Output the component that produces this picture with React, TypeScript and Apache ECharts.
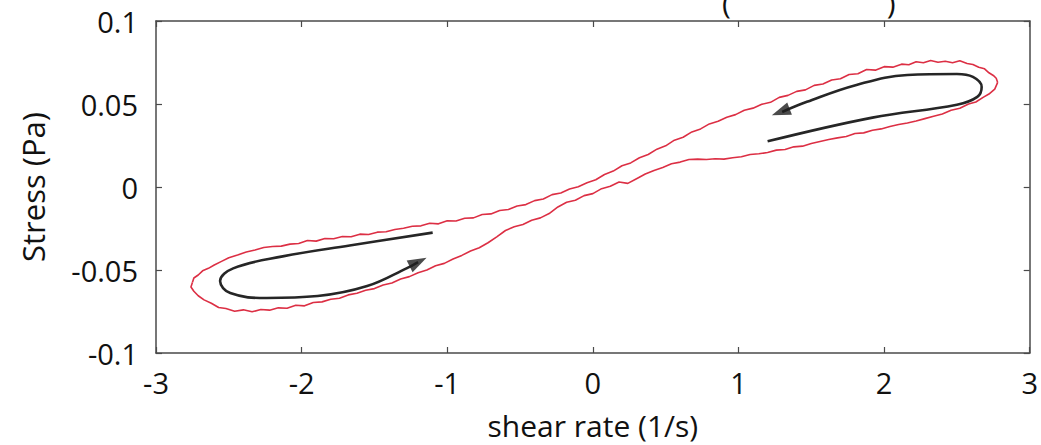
import React, { useEffect, useRef } from "react";
import * as echarts from "echarts";

const xTicks = [-3, -2, -1, 0, 1, 2, 3];
const yTicks = [-0.1, -0.05, 0, 0.05, 0.1];
const xLabel = "shear rate (1/s)";
const yLabel = "Stress (Pa)";

// Measured loop: upper branch (rate decreasing), right tip -> left tip
const upperBranch: [number, number][] = [
  [2.78, 0.063], [2.77, 0.0655], [2.75, 0.0672], [2.72, 0.0688], [2.69, 0.0712], [2.65, 0.0722],
  [2.61, 0.0738], [2.57, 0.0744], [2.52, 0.076], [2.47, 0.0749], [2.42, 0.0758], [2.37, 0.0752],
  [2.32, 0.0762], [2.27, 0.0748], [2.22, 0.0755], [2.17, 0.0736], [2.12, 0.074], [2.06, 0.0722],
  [2.0, 0.0725], [1.94, 0.0704], [1.88, 0.0708], [1.82, 0.0682], [1.76, 0.0678], [1.7, 0.0652],
  [1.64, 0.0645], [1.58, 0.062], [1.52, 0.0612], [1.46, 0.0585], [1.4, 0.0576], [1.34, 0.0552],
  [1.28, 0.054], [1.22, 0.051], [1.16, 0.0498], [1.1, 0.0475], [1.04, 0.0462], [0.98, 0.0436],
  [0.92, 0.042], [0.86, 0.0396], [0.8, 0.038], [0.74, 0.035], [0.68, 0.0332], [0.62, 0.03],
  [0.56, 0.0282], [0.5, 0.0248], [0.44, 0.0228], [0.38, 0.0196], [0.32, 0.0176], [0.26, 0.0145],
  [0.2, 0.0128], [0.14, 0.0096], [0.08, 0.0075], [0.02, 0.0044], [-0.04, 0.0026], [-0.1, 0.0002],
  [-0.16, -0.0012], [-0.22, -0.0036], [-0.28, -0.0046], [-0.34, -0.0072], [-0.4, -0.0082],
  [-0.46, -0.0106], [-0.52, -0.0114], [-0.58, -0.0136], [-0.64, -0.0142], [-0.7, -0.0162],
  [-0.76, -0.0166], [-0.82, -0.0186], [-0.88, -0.0188], [-0.94, -0.0205], [-1.0, -0.0203],
  [-1.06, -0.0222], [-1.12, -0.0218], [-1.18, -0.0234], [-1.24, -0.0236], [-1.3, -0.0248],
  [-1.36, -0.0256], [-1.42, -0.027], [-1.48, -0.0272], [-1.54, -0.0286], [-1.6, -0.0284],
  [-1.66, -0.03], [-1.72, -0.0298], [-1.78, -0.0312], [-1.84, -0.031], [-1.9, -0.0326],
  [-1.96, -0.0322], [-2.02, -0.034], [-2.08, -0.0344], [-2.14, -0.0356], [-2.2, -0.0358],
  [-2.26, -0.0364], [-2.32, -0.038], [-2.38, -0.0392], [-2.44, -0.041], [-2.5, -0.0426],
  [-2.55, -0.0448], [-2.6, -0.047], [-2.64, -0.049], [-2.68, -0.0505], [-2.71, -0.053],
  [-2.74, -0.0548], [-2.75, -0.0575],
];

// Lower branch (rate increasing), left tip -> right tip
const lowerBranch: [number, number][] = [
  [-2.75, -0.0575], [-2.76, -0.0602], [-2.74, -0.0628], [-2.71, -0.0655], [-2.67, -0.068],
  [-2.62, -0.07], [-2.57, -0.0726], [-2.52, -0.0732], [-2.46, -0.0748], [-2.4, -0.074],
  [-2.34, -0.0752], [-2.28, -0.0738], [-2.22, -0.0742], [-2.16, -0.0728], [-2.1, -0.073],
  [-2.04, -0.0712], [-1.98, -0.0716], [-1.92, -0.0696], [-1.86, -0.0692], [-1.8, -0.0676],
  [-1.74, -0.067], [-1.68, -0.065], [-1.62, -0.064], [-1.56, -0.0622], [-1.5, -0.0612],
  [-1.44, -0.059], [-1.38, -0.0578], [-1.32, -0.0554], [-1.26, -0.054], [-1.2, -0.0516],
  [-1.14, -0.05], [-1.08, -0.0474], [-1.02, -0.046], [-0.96, -0.0434], [-0.9, -0.0412],
  [-0.84, -0.0386], [-0.78, -0.0366], [-0.72, -0.0336], [-0.66, -0.03], [-0.6, -0.0262],
  [-0.54, -0.024], [-0.48, -0.0226], [-0.42, -0.02], [-0.36, -0.0186], [-0.3, -0.016],
  [-0.24, -0.012], [-0.18, -0.0092], [-0.12, -0.008], [-0.06, -0.0052], [0.0, -0.004],
  [0.06, -0.001], [0.12, 0.0004], [0.18, 0.003], [0.24, 0.0022], [0.3, 0.005], [0.36, 0.0078],
  [0.42, 0.01], [0.48, 0.0118], [0.54, 0.014], [0.6, 0.015], [0.66, 0.0166], [0.72, 0.0168],
  [0.78, 0.0166], [0.84, 0.017], [0.9, 0.0168], [0.96, 0.0176], [1.02, 0.0182], [1.08, 0.0196],
  [1.14, 0.02], [1.2, 0.0208], [1.26, 0.0222], [1.32, 0.0226], [1.38, 0.0242], [1.44, 0.0246],
  [1.5, 0.0262], [1.56, 0.0274], [1.62, 0.0286], [1.68, 0.0296], [1.74, 0.0304], [1.8, 0.0322],
  [1.86, 0.0326], [1.92, 0.0342], [1.98, 0.035], [2.04, 0.0364], [2.1, 0.0376], [2.16, 0.0386],
  [2.22, 0.0398], [2.28, 0.0412], [2.34, 0.0426], [2.4, 0.044], [2.46, 0.0462], [2.52, 0.0474],
  [2.58, 0.05], [2.63, 0.0512], [2.68, 0.054], [2.72, 0.056], [2.76, 0.059], [2.78, 0.063],
];

// Direction guide arrows (schematic)
const arrowRight: [number, number][] = [
  [1.2, 0.0275], [1.92, 0.0418], [2.5, 0.0496], [2.64, 0.0543], [2.67, 0.0603], [2.61, 0.0663],
  [2.5, 0.0681], [2.16, 0.0675], [1.81, 0.0615], [1.47, 0.0513], [1.3, 0.0452],
];
const arrowLeft: [number, number][] = [
  [-1.1, -0.0275], [-1.67, -0.0352], [-2.13, -0.0418], [-2.47, -0.049], [-2.56, -0.0567],
  [-2.49, -0.0639], [-2.24, -0.0669], [-1.89, -0.0657], [-1.55, -0.0597], [-1.28, -0.049],
  [-1.2, -0.0452],
];
const arrowHeads: { value: [number, number]; rot: number }[] = [
  { value: [1.29, 0.0452], rot: 111 },
  { value: [-1.2, -0.0452], rot: -63 },
];

const FONT = "'Open Sans', 'Noto Sans', sans-serif";
const TXT = "#111111";
const AX = "#4a4a4a";

export default function App() {
  const ref = useRef<HTMLDivElement>(null);
  useEffect(() => {
    if (!ref.current) return;
    const chart = echarts.init(ref.current, undefined, { renderer: "svg" });
    const axisCommon = {
      type: "value" as const,
      axisLine: { show: true, onZero: false, lineStyle: { color: AX, width: 1.5 } },
      axisTick: { show: true, inside: true, length: 6, lineStyle: { color: AX, width: 1.2 } },
      splitLine: { show: false },
    };
    chart.setOption({
      animation: false,
      backgroundColor: "#ffffff",
      textStyle: { fontFamily: FONT },
      grid: { left: 156, right: 11, top: 21, bottom: 89 },
      xAxis: [
        {
          ...axisCommon,
          min: xTicks[0],
          max: xTicks[xTicks.length - 1],
          interval: 1,
          position: "bottom",
          axisLabel: { color: TXT, fontSize: 29, fontFamily: FONT, margin: 15 },
          name: xLabel,
          nameLocation: "middle",
          nameGap: 57,
          nameTextStyle: { color: TXT, fontSize: 30, fontFamily: FONT },
        },
        {
          ...axisCommon,
          min: xTicks[0],
          max: xTicks[xTicks.length - 1],
          interval: 1,
          position: "top",
          axisLabel: { show: false },
        },
      ],
      yAxis: [
        {
          ...axisCommon,
          min: yTicks[0],
          max: yTicks[yTicks.length - 1],
          interval: 0.05,
          position: "left",
          axisLabel: { color: TXT, fontSize: 29, fontFamily: FONT, margin: 18 },
          name: yLabel,
          nameLocation: "middle",
          nameGap: 108,
          nameRotate: 90,
          nameTextStyle: { color: TXT, fontSize: 31, fontFamily: FONT },
        },
        {
          ...axisCommon,
          min: yTicks[0],
          max: yTicks[yTicks.length - 1],
          interval: 0.05,
          position: "right",
          axisLabel: { show: false },
        },
      ],
      graphic: [
        {
          type: "text",
          left: 722,
          top: -13,
          style: { text: "(                    )", fontSize: 30, fontFamily: FONT, fill: TXT },
        },
      ],
      series: [
        {
          type: "line",
          data: upperBranch,
          showSymbol: false,
          lineStyle: { color: "#dc2f44", width: 1.6 },
          z: 2,
        },
        {
          type: "line",
          data: lowerBranch,
          showSymbol: false,
          lineStyle: { color: "#dc2f44", width: 1.6 },
          z: 2,
        },
        {
          type: "line",
          data: arrowRight,
          smooth: 0.4,
          showSymbol: false,
          lineStyle: { color: "#262626", width: 2.6 },
          z: 3,
        },
        {
          type: "line",
          data: arrowLeft,
          smooth: 0.4,
          showSymbol: false,
          lineStyle: { color: "#262626", width: 2.6 },
          z: 3,
        },
        {
          type: "scatter",
          data: arrowHeads.map((a) => ({ value: a.value, symbolRotate: a.rot })),
          symbol: "triangle",
          symbolSize: [13, 19],
          itemStyle: { color: "#1e1e1e" },
          z: 4,
        },
      ],
    });
    return () => chart.dispose();
  }, []);
  return (
    <div
      ref={ref}
      style={{ position: "absolute", left: 0, top: 0, width: 1041, height: 445 }}
    />
  );
}
